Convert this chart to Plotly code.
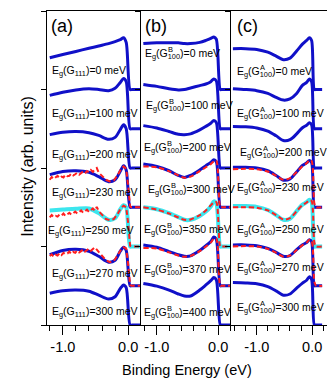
import plotly.graph_objects as go
from plotly.subplots import make_subplots

# ---- data (intensity above each curve's own baseline, arb. units) ----
# panel (a): G111
XA = [-1.2, -1.0, -0.8, -0.6, -0.45, -0.3, -0.2, -0.12, -0.07, -0.03, 0.03, 0.06, 0.19]
A0 = [0.81, 0.89, 0.97, 1.05, 1.11, 1.17, 1.22, 1.27, 1.32, 1.2, 0, 0, 0]
A100 = [0.85, 0.93, 0.99, 1.02, 1.0, 0.97, 1.03, 1.18, 1.28, 1.2, 0, 0, 0]
A200 = [0.85, 0.91, 0.93, 0.9, 0.83, 0.73, 0.78, 0.98, 1.1, 1.0, 0, 0, 0]
A230 = [0.83, 0.91, 0.93, 0.89, 0.78, 0.65, 0.7, 0.92, 1.06, 0.95, 0, 0, 0]
A250 = [0.92, 0.94, 0.96, 0.97, 0.85, 0.68, 0.72, 0.95, 1.05, 1.0, 0, 0, 0]
A270 = [0.79, 0.9, 0.93, 0.88, 0.75, 0.6, 0.65, 0.88, 0.98, 0.9, 0, 0, 0]
A300 = [0.81, 0.87, 0.89, 0.86, 0.76, 0.66, 0.72, 0.93, 1.02, 0.95, 0, 0, 0]

# measured (noisy) spectra in panel (a)
XR = [-1.2, -1.17, -1.14, -1.11, -1.08, -1.05, -1.02, -0.99, -0.96, -0.93,
      -0.9, -0.87, -0.84, -0.81, -0.78, -0.75, -0.72, -0.69, -0.66, -0.63,
      -0.6, -0.57, -0.54, -0.51, -0.48, -0.45, -0.4, -0.34, -0.28, -0.22,
      -0.16, -0.11, -0.07, -0.03, 0.0, 0.03, 0.05, 0.19]
A230_EXP = [0.70, 0.77, 0.72, 0.75, 0.80, 0.74, 0.78, 0.76, 0.83, 0.79,
            0.80, 0.86, 0.81, 0.84, 0.88, 0.83, 0.87, 0.91, 0.86, 0.92,
            0.89, 0.95, 0.90, 0.97, 1.00, 0.88, 0.80, 0.70, 0.66, 0.68,
            0.82, 0.97, 1.04, 0.98, 0.55, 0.02, 0, 0]
A250_EXP = [0.74, 0.80, 0.75, 0.78, 0.76, 0.82, 0.79, 0.84, 0.78, 0.83,
            0.86, 0.81, 0.85, 0.89, 0.84, 0.87, 0.92, 0.86, 0.90, 0.94,
            0.88, 0.93, 0.97, 0.91, 1.01, 0.90, 0.80, 0.70, 0.67, 0.70,
            0.83, 0.98, 1.04, 1.0, 0.6, 0.02, 0, 0]
A270_EXP = [0.76, 0.80, 0.74, 0.79, 0.77, 0.83, 0.78, 0.84, 0.80, 0.82,
            0.87, 0.81, 0.86, 0.84, 0.90, 0.85, 0.88, 0.93, 0.87, 0.91,
            0.95, 0.89, 0.94, 0.98, 0.92, 0.86, 0.76, 0.65, 0.60, 0.63,
            0.78, 0.92, 0.98, 0.95, 0.55, 0.02, 0, 0]

# panel (b): G100 B
XB = [-1.22, -1.0, -0.8, -0.65, -0.55, -0.45, -0.3, -0.2, -0.12, -0.07, -0.03, 0.035, 0.06, 0.21]
B0 = [1.17, 1.19, 1.19, 1.19, 1.17, 1.17, 1.20, 1.25, 1.30, 1.34, 1.28, 0, 0, 0]
B100 = [1.13, 1.08, 1.02, 0.99, 1.0, 1.04, 1.10, 1.14, 1.20, 1.27, 1.22, 0, 0, 0]
B200 = [1.08, 1.02, 0.93, 0.86, 0.85, 0.87, 0.97, 1.06, 1.14, 1.21, 1.16, 0, 0, 0]
B300 = [1.10, 1.04, 0.93, 0.81, 0.76, 0.81, 0.95, 1.06, 1.14, 1.21, 1.16, 0, 0, 0]
B350 = [1.0, 0.95, 0.85, 0.75, 0.68, 0.68, 0.78, 0.89, 1.02, 1.15, 1.10, 0, 0, 0]
B370 = [1.04, 0.98, 0.87, 0.79, 0.75, 0.76, 0.90, 1.02, 1.13, 1.24, 1.18, 0, 0, 0]
B400 = [1.06, 0.99, 0.89, 0.79, 0.74, 0.74, 0.89, 1.02, 1.13, 1.21, 1.15, 0, 0, 0]
B300_EXP = [1.04, 1.02, 0.92, 0.81, 0.75, 0.78, 0.92, 1.02, 1.10, 1.17, 1.19, 0, 0, 0]
B350_EXP = [1.0, 0.94, 0.84, 0.74, 0.68, 0.69, 0.80, 0.92, 1.05, 1.12, 1.13, 0, 0, 0]
B370_EXP = [0.96, 0.95, 0.85, 0.77, 0.74, 0.76, 0.88, 1.0, 1.1, 1.2, 1.2, 0, 0, 0]

# panel (c): G100 A
XC = [-1.43, -1.2, -1.0, -0.8, -0.65, -0.52, -0.4, -0.28, -0.18, -0.1, -0.05, -0.01, 0.04, 0.07, 0.18]
C0 = [1.04, 1.04, 1.02, 0.95, 0.85, 0.76, 0.80, 0.98, 1.15, 1.25, 1.32, 1.25, 0, 0, 0]
C100 = [1.02, 1.0, 0.97, 0.9, 0.8, 0.73, 0.76, 0.9, 1.1, 1.18, 1.27, 1.2, 0, 0, 0]
C200 = [1.06, 1.05, 1.02, 0.94, 0.82, 0.7, 0.72, 0.87, 1.02, 1.09, 1.15, 1.1, 0, 0, 0]
C230 = [1.02, 1.02, 1.0, 0.93, 0.81, 0.69, 0.72, 0.9, 1.06, 1.13, 1.19, 1.14, 0, 0, 0]
C250 = [1.03, 1.03, 1.01, 0.93, 0.8, 0.68, 0.71, 0.9, 1.06, 1.13, 1.19, 1.14, 0, 0, 0]
C270 = [1.04, 1.04, 1.02, 0.95, 0.85, 0.75, 0.77, 0.92, 1.04, 1.1, 1.17, 1.12, 0, 0, 0]
C300 = [1.08, 1.07, 1.05, 0.98, 0.87, 0.76, 0.79, 0.94, 1.06, 1.14, 1.23, 1.16, 0, 0, 0]
C230_EXP = [0.97, 0.98, 0.97, 0.91, 0.8, 0.7, 0.74, 0.9, 1.04, 1.12, 1.2, 1.18, 0.1, 0, 0]
C250_EXP = [1.0, 1.0, 0.99, 0.92, 0.8, 0.69, 0.72, 0.9, 1.05, 1.12, 1.18, 1.16, 0.1, 0, 0]
C270_EXP = [1.0, 1.01, 1.0, 0.94, 0.84, 0.74, 0.77, 0.91, 1.03, 1.1, 1.17, 1.15, 0.1, 0, 0]

GAPS_A = ["0", "100", "200", "230", "250", "270", "300"]
GAPS_B = ["0", "100", "200", "300", "350", "370", "400"]
GAPS_C = ["0", "100", "200", "230", "250", "270", "300"]

# ---- layout geometry ----
# the page body has an 8px margin, so the figure is drawn 8px smaller and every
# reference pixel position is shifted by OFF
OFF = 8
W, H = 335 - OFF, 381 - OFF
ML, MR, MT, MB = 47 - OFF, 5, 10 - OFF, 56
PW, PH = W - ML - MR, H - MT - MB
FONT = "Liberation Sans, Arial, sans-serif"
BLUE, CYAN, RED = "#1010c8", "#3ce6ee", "#ff1e1e"


def px_x(p):
    return (p - OFF - ML) / PW


def px_y(p):
    return (H - MB - (p - OFF)) / PH


panels = [
    dict(x=XA, curves=[A0, A100, A200, A230, A250, A270, A300],
         fits={3: A230_EXP, 4: A250_EXP, 5: A270_EXP}, fitx=XR, fitshape="linear",
         rng=[-1.242, 0.192], dom=[0, px_x(141.7)], tag="(a)", tagx=49,
         gaps=GAPS_A, sub="111", sup=None,
         labx=[50, 50, 50, 50, 46, 50, 50], laby=[70, 113, 154, 193, 231, 274, 312]),
    dict(x=XB, curves=[B0, B100, B200, B300, B350, B370, B400],
         fits={3: B300_EXP, 4: B350_EXP, 5: B370_EXP}, fitx=XB, fitshape="spline",
         rng=[-1.263, 0.21], dom=[px_x(141.7), px_x(233)], tag="(b)", tagx=144,
         gaps=GAPS_B, sub="100", sup="B",
         labx=[144, 145, 143, 147, 143, 143, 143], laby=[53, 105, 147, 190, 230, 270, 313]),
    dict(x=XC, curves=[C0, C100, C200, C230, C250, C270, C300],
         fits={3: C230_EXP, 4: C250_EXP, 5: C270_EXP}, fitx=XC, fitshape="spline",
         rng=[-1.464, 0.268], dom=[px_x(233), 1.0], tag="(c)", tagx=237,
         gaps=GAPS_C, sub="100", sup="A",
         labx=[237, 237, 240, 237, 237, 237, 237], laby=[71, 113, 152, 188, 230, 268, 308]),
]

fig = make_subplots(rows=1, cols=3, horizontal_spacing=0)
ann = []

for c, p in enumerate(panels, start=1):
    for k, ys in enumerate(p["curves"]):
        base = 6 - k
        col, w = (CYAN, 4) if k == 4 else (BLUE, 3)
        fig.add_trace(go.Scatter(x=p["x"], y=[v + base for v in ys], mode="lines",
                                 line=dict(color=col, width=w, shape="spline", smoothing=0.8),
                                 hoverinfo="skip", showlegend=False), row=1, col=c)
    for k, ys in p["fits"].items():
        base = 6 - k
        fig.add_trace(go.Scatter(x=p["fitx"], y=[v + base for v in ys], mode="lines",
                                 line=dict(color=RED, width=2, dash="5px,3px",
                                           shape=p["fitshape"], smoothing=0.8),
                                 hoverinfo="skip", showlegend=False), row=1, col=c)

    mirror = "ticks" if c == 3 else False
    fig.update_xaxes(range=p["rng"], domain=p["dom"], showline=True, linecolor="black",
                     linewidth=1, mirror=True, ticks="outside", ticklen=9, tickwidth=1,
                     tickcolor="black", tickvals=[-1, 0], ticktext=["-1.0", "0.0"],
                     tickfont=dict(family=FONT, size=14.5, color="black"),
                     minor=dict(tickvals=[-1.4, -1.2, -0.8, -0.6, -0.4, -0.2, 0.2],
                                ticks="outside", ticklen=5, tickwidth=1, tickcolor="black"),
                     showgrid=False, zeroline=False, row=1, col=c)
    fig.update_yaxes(range=[0, 8], showline=True, linecolor="black", linewidth=1,
                     mirror=mirror, ticks="outside", ticklen=5, tickwidth=1,
                     tickcolor="black", tickvals=[0, 2, 4, 6, 8], showticklabels=False,
                     showgrid=False, zeroline=False, row=1, col=c)

    ann.append(dict(text=p["tag"], x=px_x(p["tagx"]), y=px_y(25), xref="paper", yref="paper",
                    xanchor="left", yanchor="middle", showarrow=False,
                    font=dict(family=FONT, size=18, color="black")))
    for g, lx, ly in zip(p["gaps"], p["labx"], p["laby"]):
        ann.append(dict(text="E<sub>g</sub>(G<sub>%s</sub>)=%s meV" % (p["sub"], g),
                        x=px_x(lx), y=px_y(ly), xref="paper", yref="paper",
                        xanchor="left", yanchor="middle", showarrow=False,
                        font=dict(family=FONT, size=10.5, color="black")))
        if p["sup"]:
            ann.append(dict(text=p["sup"], x=px_x(lx + 23.5), y=px_y(ly - 4.5),
                            xref="paper", yref="paper", xanchor="left", yanchor="middle",
                            showarrow=False, font=dict(family=FONT, size=7.5, color="black")))

ann.append(dict(text="Binding Energy (eV)", x=px_x(189), y=px_y(370), xref="paper",
                yref="paper", xanchor="center", yanchor="middle", showarrow=False,
                font=dict(family=FONT, size=14.5, color="black")))
ann.append(dict(text="Intensity (arb. units)", x=px_x(27), y=px_y(166), xref="paper",
                yref="paper", xanchor="center", yanchor="middle", showarrow=False,
                textangle=-90, font=dict(family=FONT, size=16, color="black")))

fig.update_layout(width=W, height=H, margin=dict(l=ML, r=MR, t=MT, b=MB),
                  plot_bgcolor="white", paper_bgcolor="white", annotations=ann,
                  font=dict(family=FONT, color="black"))

fig.write_html("out.html")
